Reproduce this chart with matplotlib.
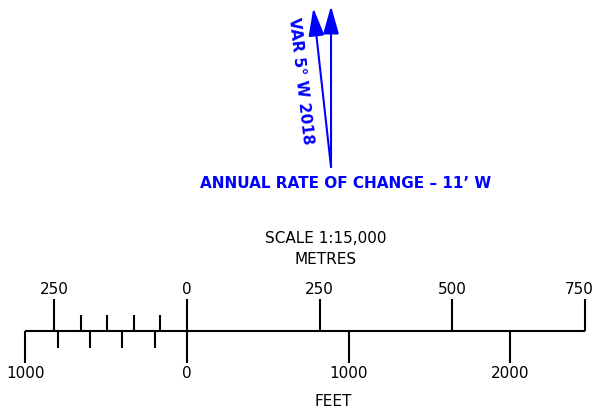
"""Magnetic variation note and 1:15,000 bar scale (metres over feet)."""
import matplotlib

matplotlib.use("Agg")
import matplotlib.pyplot as plt

# ----------------------------------------------------------------------
# scale data
# ----------------------------------------------------------------------
FT = 0.3048  # metres per foot

metre_major = [-250, 0, 250, 500, 750]
metre_labels = ["250", "0", "250", "500", "750"]
metre_minor = [-200, -150, -100, -50]

feet_major = [-1000, 0, 1000, 2000]
feet_labels = ["1000", "0", "1000", "2000"]
feet_minor = [-800, -600, -400, -200]

scale_title = "SCALE 1:15,000"
metre_title = "METRES"
feet_title = "FEET"

var_text = "VAR 5\u00b0 W 2018"
rate_text = "ANNUAL RATE OF CHANGE \u2013 11\u2019 W"

BLUE = "#0000ff"
LW = 1.5
FS = 11

# ----------------------------------------------------------------------
# figure: x in metres, y in pixels from the top
# ----------------------------------------------------------------------
fig = plt.figure(figsize=(5.96, 4.17), dpi=100)
ax = fig.add_axes([0, 0, 1, 1])
ax.set_xlim(-352.6, 771.1)
ax.set_ylim(417, 0)
ax.axis("off")

bar_y = 331
ax.plot([-1000 * FT, metre_major[-1]], [bar_y, bar_y], color="k", lw=LW,
        solid_capstyle="butt")

# metres above the bar (last label nudged in from the edge)
for i, (m, lab) in enumerate(zip(metre_major, metre_labels)):
    ax.plot([m, m], [bar_y, 299], color="k", lw=LW, solid_capstyle="butt")
    dx = -4 if i == len(metre_major) - 1 else 0
    ax.annotate(lab, (m, 290), xytext=(dx, 0), textcoords="offset points",
                ha="center", va="center", fontsize=FS)
for m in metre_minor:
    ax.plot([m, m], [bar_y, 315], color="k", lw=LW, solid_capstyle="butt")

# feet below the bar
for f, lab in zip(feet_major, feet_labels):
    ax.plot([f * FT, f * FT], [bar_y, 363], color="k", lw=LW,
            solid_capstyle="butt")
    ax.text(f * FT, 374, lab, ha="center", va="center", fontsize=FS)
for f in feet_minor:
    ax.plot([f * FT, f * FT], [bar_y, 348], color="k", lw=LW,
            solid_capstyle="butt")

ax.text(262, 238, scale_title, ha="center", va="center", fontsize=FS)
ax.text(262, 259, metre_title, ha="center", va="center", fontsize=FS)
ax.text(275, 402, feet_title, ha="center", va="center", fontsize=FS)

# ----------------------------------------------------------------------
# magnetic variation arrows
# ----------------------------------------------------------------------
base = (271.5, 167)
true_tip = (271.5, 6)
mag_tip = (238.2, 8)
style = "-|>,head_length=1.7,head_width=0.48"
for tip in (true_tip, mag_tip):
    ax.annotate("", xy=tip, xytext=base,
                arrowprops=dict(arrowstyle=style, color=BLUE, lw=LW,
                                mutation_scale=10, shrinkA=0, shrinkB=0))

ax.text(215, 81, var_text, ha="center", va="center", rotation=-83.6,
        color=BLUE, fontsize=11, weight="bold", rotation_mode="anchor")
ax.text(299, 183, rate_text, ha="center", va="center", color=BLUE,
        fontsize=11, weight="bold")

fig.savefig("out.png", dpi=100)
